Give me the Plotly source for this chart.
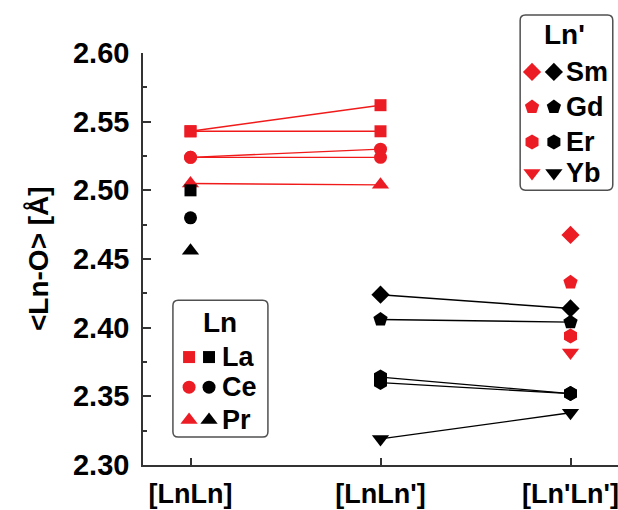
import plotly.graph_objects as go

# ---------------- data ----------------
categories = ["[LnLn]", "[LnLn']", "[Ln'Ln']"]
cat_pos = [0, 1, 2]

# Ln series (red): [LnLn] -> [LnLn'] pairs
ln_names = ["La", "La", "Ce", "Ce", "Pr"]
ln_lnln = [2.543, 2.543, 2.524, 2.524, 2.505]
ln_lnlnp = [2.562, 2.543, 2.530, 2.524, 2.504]

# Ln homo-dimers (black) at [LnLn]
ln_black_names = ["La", "Ce", "Pr"]
ln_black_vals = [2.500, 2.480, 2.456]

# Ln' series (black): [LnLn'] -> [Ln'Ln'] pairs
lnp_names = ["Sm", "Gd", "Er", "Er", "Yb"]
lnp_lnlnp = [2.424, 2.406, 2.364, 2.360, 2.319]
lnp_lnplnp = [2.414, 2.404, 2.352, 2.352, 2.338]

# Ln' (red) at [Ln'Ln']
lnp_red_names = ["Sm", "Gd", "Er", "Yb"]
lnp_red_vals = [2.4675, 2.433, 2.394, 2.382]

y_ticks = [2.30, 2.35, 2.40, 2.45, 2.50, 2.55, 2.60]
y_tick_text = ["2.30", "2.35", "2.40", "2.45", "2.50", "2.55", "2.60"]

# ---------------- styles ----------------
RED = "#ec1c24"
RED_LINE = "#f01a1a"
BLACK = "#000000"
AXIS = "#333333"
FONT = "Liberation Sans, Arial, sans-serif"
symbols = {"La": "square", "Ce": "circle", "Pr": "triangle-up",
           "Sm": "diamond", "Gd": "pentagon", "Er": "hexagon", "Yb": "triangle-down"}
sizes = {"square": 12, "circle": 13, "triangle-up": 15, "diamond": 14,
         "pentagon": 15, "hexagon": 15, "triangle-down": 15}

fig = go.Figure()

# red Ln lines
for n, a, b in zip(ln_names, ln_lnln, ln_lnlnp):
    s = symbols[n]
    fig.add_trace(go.Scatter(x=[cat_pos[0], cat_pos[1]], y=[a, b], mode="lines+markers",
                             line=dict(color=RED_LINE, width=1.4),
                             marker=dict(symbol=s, size=sizes[s], color=RED),
                             showlegend=False, hoverinfo="skip"))
# red Ln' at [Ln'Ln']
for n, v in zip(lnp_red_names, lnp_red_vals):
    s = symbols[n]
    fig.add_trace(go.Scatter(x=[cat_pos[2]], y=[v], mode="markers",
                             marker=dict(symbol=s, size=sizes[s], color=RED),
                             showlegend=False, hoverinfo="skip"))
# black Ln at [LnLn]
for n, v in zip(ln_black_names, ln_black_vals):
    s = symbols[n]
    fig.add_trace(go.Scatter(x=[cat_pos[0]], y=[v], mode="markers",
                             marker=dict(symbol=s, size=sizes[s], color=BLACK),
                             showlegend=False, hoverinfo="skip"))
# black Ln' lines
for n, a, b in zip(lnp_names, lnp_lnlnp, lnp_lnplnp):
    s = symbols[n]
    fig.add_trace(go.Scatter(x=[cat_pos[1], cat_pos[2]], y=[a, b], mode="lines+markers",
                             line=dict(color=BLACK, width=1.4),
                             marker=dict(symbol=s, size=sizes[s], color=BLACK),
                             showlegend=False, hoverinfo="skip"))

# ---------------- custom legends (paper fractions on a hidden overlay axis) ----------------
legends = [
    dict(title="Ln", names=["La", "Ce", "Pr"], box=(0.063, 0.263, 0.068, 0.400),
         title_xy=(0.162, 0.345), rows=[0.262, 0.189, 0.109], xr=0.097, xb=0.139, xt=0.163),
    dict(title="Ln'", names=["Sm", "Gd", "Er", "Yb"], box=(0.794, 0.989, 0.667, 1.092),
         title_xy=(0.888, 1.044), rows=[0.954, 0.869, 0.784, 0.709], xr=0.819, xb=0.865, xt=0.886),
]
shapes = []
annotations = []
for lg in legends:
    x0, x1, y0, y1 = lg["box"]
    rx, ry = 0.011, 0.013
    path = (f"M{x0+rx},{y0} L{x1-rx},{y0} Q{x1},{y0} {x1},{y0+ry} L{x1},{y1-ry} "
            f"Q{x1},{y1} {x1-rx},{y1} L{x0+rx},{y1} Q{x0},{y1} {x0},{y1-ry} "
            f"L{x0},{y0+ry} Q{x0},{y0} {x0+rx},{y0} Z")
    shapes.append(dict(type="path", xref="paper", yref="paper", path=path,
                       line=dict(color="#505050", width=1.5), fillcolor="white", layer="below"))
    annotations.append(dict(text=lg["title"], x=lg["title_xy"][0], y=lg["title_xy"][1],
                            xref="paper", yref="paper", showarrow=False,
                            xanchor="center", yanchor="middle",
                            font=dict(family=FONT, size=28, color="black", weight="bold")))
    for n, yy in zip(lg["names"], lg["rows"]):
        s = symbols[n]
        fig.add_trace(go.Scatter(x=[lg["xr"], lg["xb"]], y=[yy, yy], mode="markers",
                                 xaxis="x2", yaxis="y2", cliponaxis=False,
                                 marker=dict(symbol=s, size=sizes[s], color=[RED, BLACK]),
                                 showlegend=False, hoverinfo="skip"))
        annotations.append(dict(text=n, x=lg["xt"], y=yy, xref="paper", yref="paper",
                                showarrow=False, xanchor="left", yanchor="middle",
                                font=dict(family=FONT, size=27, color="black", weight="bold")))

annotations.append(dict(text="<Ln-O> [Å]", x=-0.221, y=0.5, xref="paper", yref="paper",
                        showarrow=False, textangle=-90, xanchor="center", yanchor="middle",
                        font=dict(family=FONT, size=28, color="black", weight="bold")))

fig.update_layout(
    template="none",
    width=618, height=510,
    margin=dict(l=143, r=0, t=53, b=45, autoexpand=False),
    paper_bgcolor="white", plot_bgcolor="white",
    shapes=shapes, annotations=annotations,
    xaxis=dict(range=[-0.25, 2.25], tickvals=cat_pos, ticktext=categories, automargin=False,
               showline=True, linecolor=AXIS, linewidth=1.5, mirror=False,
               ticks="inside", ticklen=7, tickwidth=1.5, tickcolor=AXIS,
               showgrid=False, zeroline=False, ticklabeloverflow="allow", ticklabelstandoff=4,
               tickfont=dict(family=FONT, size=27, color="black", weight="bold")),
    yaxis=dict(range=[2.30, 2.60], tickvals=y_ticks, ticktext=y_tick_text, automargin=False,
               showline=True, linecolor=AXIS, linewidth=1.5,
               ticks="inside", ticklen=8, tickwidth=1.5, tickcolor=AXIS,
               minor=dict(ticks="inside", ticklen=4, dtick=0.025, tickwidth=1.5, tickcolor=AXIS),
               showgrid=False, zeroline=False, ticklabelstandoff=6, ticklabeloverflow="allow",
               tickfont=dict(family=FONT, size=29, color="black", weight="bold")),
    xaxis2=dict(range=[0, 1], overlaying="x", visible=False, fixedrange=True),
    yaxis2=dict(range=[0, 1], overlaying="y", visible=False, fixedrange=True),
)

# remove the browser's default page margin so the figure sits at the window's corner
post_js = ("document.body.style.margin='0';document.body.style.padding='0';"
           "document.documentElement.style.overflow='hidden';")
fig.write_html("out.html", post_script=post_js, config={"displayModeBar": False})
